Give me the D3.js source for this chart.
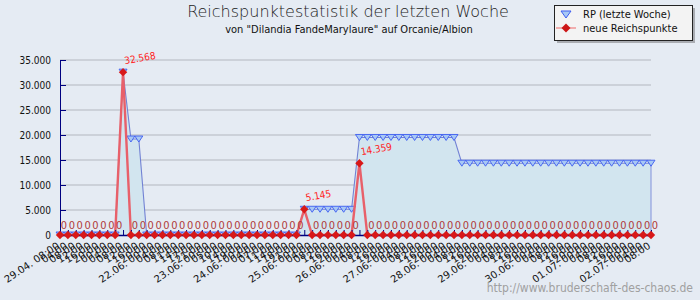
<!DOCTYPE html>
<html>
<head>
<meta charset="utf-8">
<script src="https://cdn.jsdelivr.net/npm/d3@7"></script>
<style>
  body { margin: 0; background: #e5ebf3; }
  svg { display: block; font-family: "DejaVu Sans Condensed", "DejaVu Sans", sans-serif; }
</style>
</head>
<body>
<div id="chart"></div>
<script>
// time stamps of the samples (only the first of a day carries the date)
var labels = [
  "29.04. 08:00","04:00","08:00","12:00","16:00","20:00",
  "00:00","04:00","08:00","12:00","16:00","20:00",
  "22.06. 00:00","04:00","08:00","11:00","14:00","17:00","21:00",
  "23.06. 00:00","05:00","10:00","14:00","19:00",
  "24.06. 00:00","04:00","07:00","11:00","14:00","18:00","21:00",
  "25.06. 00:00","04:00","08:00","12:00","16:00","20:00",
  "26.06. 00:00","04:00","08:00","12:00","16:00","20:00",
  "27.06. 00:00","04:00","08:00","12:00","16:00","20:00",
  "28.06. 00:00","04:00","08:00","12:00","16:00","20:00",
  "29.06. 00:00","04:00","08:00","12:00","16:00","20:00",
  "30.06. 00:00","04:00","08:00","12:00","16:00","20:00",
  "01.07. 00:00","04:00","08:00","12:00","16:00","20:00",
  "02.07. 00:00","04:00","08:00"
];

// RP (letzte Woche)
var rpWeek = [
  0,0,0,0,0,0,0,0,32568,19200,19200,0,
  0,0,0,0,0,0,0,
  0,0,0,0,0,
  0,0,0,0,0,0,0,
  5145,5145,5145,5145,5145,5145,
  5145,19504,19504,19504,19504,19504,
  19504,19504,19504,19504,19504,19504,
  19504,19504,14359,14359,14359,14359,
  14359,14359,14359,14359,14359,14359,
  14359,14359,14359,14359,14359,14359,
  14359,14359,14359,14359,14359,14359,
  14359,14359,14359
];

// neue Reichspunkte
var newPoints = [
  0,0,0,0,0,0,0,0,32568,0,0,0,
  0,0,0,0,0,0,0,
  0,0,0,0,0,
  0,0,0,0,0,0,0,
  5145,0,0,0,0,0,
  0,14359,0,0,0,0,
  0,0,0,0,0,0,
  0,0,0,0,0,0,
  0,0,0,0,0,0,
  0,0,0,0,0,0,
  0,0,0,0,0,0,
  0,0,0
];

var yTicks = [0, 5000, 10000, 15000, 20000, 25000, 30000, 35000];

var W = 700, H = 300;
var plotL = 60, plotR = 651, plotT = 60, plotB = 235;

var de = d3.formatLocale({decimal: ",", thousands: ".", grouping: [3], currency: ["", " €"]});
var fmt = de.format(",");

var svg = d3.select("#chart").append("svg")
    .attr("width", W).attr("height", H);

svg.append("rect").attr("width", W).attr("height", H).attr("fill", "#e5ebf3");

var x = d3.scaleLinear().domain([0, labels.length - 1]).range([plotL, plotR]);
var y = d3.scaleLinear().domain([0, 35000]).range([plotB, plotT]);

// grid
svg.append("g").selectAll("line")
    .data(yTicks.filter(function(d) { return d > 0; }))
    .enter().append("line")
    .attr("x1", plotL).attr("x2", plotR)
    .attr("y1", function(d) { return y(d); })
    .attr("y2", function(d) { return y(d); })
    .attr("stroke", "#b3b7c0").attr("stroke-width", 1.2);

// area of RP
var idx = d3.range(labels.length);
svg.append("path")
    .datum(idx)
    .attr("fill", "#d2e5ef")
    .attr("d", d3.area()
        .x(function(i) { return x(i); })
        .y0(y(0))
        .y1(function(i) { return y(rpWeek[i]); }));

svg.append("path")
    .datum(idx)
    .attr("fill", "none")
    .attr("stroke", "#7282d4")
    .attr("stroke-width", 1.1)
    .attr("d", d3.line()
        .x(function(i) { return x(i); })
        .y(function(i) { return y(rpWeek[i]); }));

svg.append("line")
    .attr("x1", x(labels.length - 1)).attr("x2", x(labels.length - 1))
    .attr("y1", y(rpWeek[rpWeek.length - 1])).attr("y2", y(0))
    .attr("stroke", "#8a98dc").attr("stroke-width", 1.1);

// triangles
svg.append("g").selectAll("path")
    .data(idx)
    .enter().append("path")
    .attr("transform", function(i) { return "translate(" + x(i) + "," + y(rpWeek[i]) + ")"; })
    .attr("d", "M-4,-3L4,-3L0,3Z")
    .attr("fill", "#a8c8f4")
    .attr("stroke", "#3d5cf0")
    .attr("stroke-width", 0.9);

// red line
svg.append("path")
    .datum(idx)
    .attr("fill", "none")
    .attr("stroke", "#e8606a")
    .attr("stroke-width", 2.4)
    .attr("d", d3.line()
        .x(function(i) { return x(i); })
        .y(function(i) { return y(newPoints[i]); }));

// axes
var yAxis = svg.append("g")
    .attr("transform", "translate(" + plotL + ",0)")
    .call(d3.axisLeft(y).tickValues(yTicks).tickFormat(fmt).tickSizeInner(-6).tickSizeOuter(0).tickPadding(9));
yAxis.select(".domain").attr("stroke", "#000080");
yAxis.selectAll(".tick line").attr("stroke", "#000080");
yAxis.selectAll("text").attr("font-size", 10).attr("fill", "#111")
    .attr("font-family", "DejaVu Sans Condensed, DejaVu Sans");

var xAxis = svg.append("g")
    .attr("transform", "translate(0," + plotB + ")")
    .call(d3.axisBottom(x).tickValues(idx).tickFormat(function(i) { return labels[i]; })
        .tickSizeInner(-5).tickSizeOuter(0));
xAxis.select(".domain").attr("stroke", "#000080").attr("stroke-width", 1.3);
xAxis.selectAll(".tick line").attr("stroke", "#000080");
xAxis.selectAll("text")
    .attr("font-size", 10).attr("fill", "#111")
    .attr("font-family", "DejaVu Sans")
    .attr("text-anchor", "end")
    .attr("y", 0).attr("dy", "0.3em")
    .attr("transform", "translate(-2,10) rotate(-34)");

// red diamonds
svg.append("g").selectAll("path")
    .data(idx)
    .enter().append("path")
    .attr("transform", function(i) { return "translate(" + x(i) + "," + y(newPoints[i]) + ")"; })
    .attr("d", "M0,-4.2L4.2,0L0,4.2L-4.2,0Z")
    .attr("fill", "#d81818");

// value labels
svg.append("g").selectAll("text")
    .data(idx.filter(function(i) { return newPoints[i] === 0; }))
    .enter().append("text")
    .attr("x", function(i) { return x(i) + 4; })
    .attr("y", function(i) { return y(newPoints[i]) - 6; })
    .attr("text-anchor", "middle")
    .attr("font-size", 11)
    .attr("fill", "#b03a3a")
    .text(function(i) { return fmt(newPoints[i]); });

svg.append("g").selectAll("text")
    .data(idx.filter(function(i) { return newPoints[i] > 0; }))
    .enter().append("text")
    .attr("transform", function(i) { return "translate(" + (x(i) + 2) + "," + (y(newPoints[i]) - 8) + ") rotate(-10)"; })
    .attr("font-size", 10)
    .attr("fill", "#ff2222")
    .text(function(i) { return fmt(newPoints[i]); });

// title
svg.append("text")
    .attr("x", 348).attr("y", 17)
    .attr("text-anchor", "middle")
    .attr("font-family", "DejaVu Sans")
    .attr("font-weight", 200)
    .attr("font-size", 16)
    .attr("fill", "#222")
    .text("Reichspunktestatistik der letzten Woche");

svg.append("text")
    .attr("x", 349).attr("y", 33)
    .attr("text-anchor", "middle")
    .attr("font-size", 11)
    .attr("fill", "#111")
    .text('von "Dilandia FandeMarylaure" auf Orcanie/Albion');

// legend
var lg = svg.append("g");
lg.append("rect").attr("x", 557).attr("y", 8).attr("width", 138).attr("height", 35).attr("fill", "#a9acb2");
lg.append("rect").attr("x", 554.5).attr("y", 5.5).attr("width", 138).attr("height", 35)
    .attr("fill", "#f3f3f3").attr("stroke", "#222");
lg.append("path").attr("transform", "translate(566,14)").attr("d", "M-5,-3L5,-3L0,4Z")
    .attr("fill", "#a8c8f4").attr("stroke", "#3d5cf0");
lg.append("text").attr("x", 583).attr("y", 18).attr("font-size", 11).attr("fill", "#111").text("RP (letzte Woche)");
lg.append("line").attr("x1", 556).attr("x2", 576).attr("y1", 28).attr("y2", 28).attr("stroke", "#f08080").attr("stroke-width", 1.2);
lg.append("path").attr("transform", "translate(566,28)").attr("d", "M0,-4.5L4.5,0L0,4.5L-4.5,0Z").attr("fill", "#cc1515");
lg.append("text").attr("x", 583).attr("y", 32).attr("font-size", 11).attr("fill", "#111").text("neue Reichspunkte");

// footer
svg.append("text")
    .attr("x", 693).attr("y", 292)
    .attr("text-anchor", "end")
    .attr("font-size", 12)
    .attr("fill", "#a0a0a0")
    .text("http://www.bruderschaft-des-chaos.de");
</script>
</body>
</html>
